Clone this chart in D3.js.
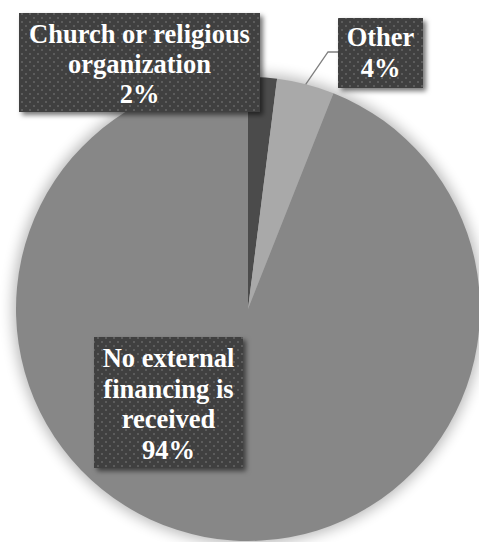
<!DOCTYPE html>
<html>
<head>
<meta charset="utf-8">
<script src="https://cdn.jsdelivr.net/npm/d3@7"></script>
<style>
  html, body { margin: 0; padding: 0; background: #ffffff; }
  svg { display: block; }
</style>
</head>
<body>
<svg id="chart" width="479" height="542"></svg>
<script>
// Sources of external financing
const categories = ["Church or religious organization", "Other", "No external financing is received"];
const shares = [2, 4, 94];
const labelLines = [
  ["Church or religious", "organization", "2%"],
  ["Other", "4%"],
  ["No external", "financing is", "received", "94%"]
];
const sliceColors = ["#4b4b4b", "#a9a9a9", "#878787"];

const W = 479, H = 542;
const cx = 248, cy = 309, R = 232;

// Label boxes (x, y, width, height) and text baselines
const boxLayout = [
  { x: 19, y: 13, w: 241, h: 99, first: 43, step: 30 },
  { x: 338, y: 18, w: 85, h: 70, first: 46, step: 31 },
  { x: 94, y: 337, w: 149, h: 131, first: 367, step: 30.5 }
];

const svg = d3.select("#chart");
const defs = svg.append("defs");

// soft shadow around the pie
const pieShadow = defs.append("filter").attr("id", "pieShadow")
  .attr("x", "-20%").attr("y", "-20%").attr("width", "140%").attr("height", "140%");
pieShadow.append("feGaussianBlur").attr("stdDeviation", 7);

// drop shadow behind label boxes
const boxShadow = defs.append("filter").attr("id", "boxShadow")
  .attr("x", "-20%").attr("y", "-20%").attr("width", "140%").attr("height", "140%");
boxShadow.append("feDropShadow")
  .attr("dx", 3).attr("dy", 3).attr("stdDeviation", 2.5)
  .attr("flood-color", "#000").attr("flood-opacity", 0.55);

// dotted fill for the label boxes
const pat = defs.append("pattern").attr("id", "dots")
  .attr("patternUnits", "userSpaceOnUse").attr("width", 8).attr("height", 8);
pat.append("rect").attr("width", 8).attr("height", 8).attr("fill", "#404040");
pat.append("rect").attr("x", 1).attr("y", 1).attr("width", 2).attr("height", 2).attr("fill", "#5c5c5c");
pat.append("rect").attr("x", 5).attr("y", 5).attr("width", 2).attr("height", 2).attr("fill", "#5c5c5c");

const g = svg.append("g").attr("transform", `translate(${cx},${cy})`);

g.append("circle").attr("r", R + 3).attr("fill", "#000").attr("opacity", 0.28)
  .attr("filter", "url(#pieShadow)");

const pie = d3.pie().sort(null).value(d => d)(shares);
const arc = d3.arc().innerRadius(0).outerRadius(R);

g.selectAll("path.slice").data(pie).join("path")
  .attr("class", "slice")
  .attr("d", arc)
  .attr("fill", (d, i) => sliceColors[i]);

// leader line for the "Other" slice
const otherArc = pie[1];
const midA = (otherArc.startAngle + otherArc.endAngle) / 2;
const p0 = [cx + R * Math.sin(midA), cy - R * Math.cos(midA)];
svg.append("polyline")
  .attr("points", [p0, [328, 52], [boxLayout[1].x, 52]].map(p => p.join(",")).join(" "))
  .attr("fill", "none").attr("stroke", "#7f7f7f").attr("stroke-width", 1.3);

// label boxes
const labels = svg.selectAll("g.label").data(categories).join("g").attr("class", "label");
labels.append("rect")
  .attr("x", (d, i) => boxLayout[i].x).attr("y", (d, i) => boxLayout[i].y)
  .attr("width", (d, i) => boxLayout[i].w).attr("height", (d, i) => boxLayout[i].h)
  .attr("fill", "url(#dots)").attr("filter", "url(#boxShadow)");

// one text element per line, in bold serif
labels.each(function(d, i) {
  const b = boxLayout[i];
  d3.select(this).selectAll("text").data(labelLines[i]).join("text")
    .attr("x", b.x + b.w / 2)
    .attr("y", (line, k) => b.first + k * b.step)
    .attr("text-anchor", "middle")
    .attr("fill", "#ffffff")
    .style("font-family", "Liberation Serif")
    .style("font-weight", "bold")
    .style("font-size", "26.5px")
    .text(line => line);
});
</script>
</body>
</html>
